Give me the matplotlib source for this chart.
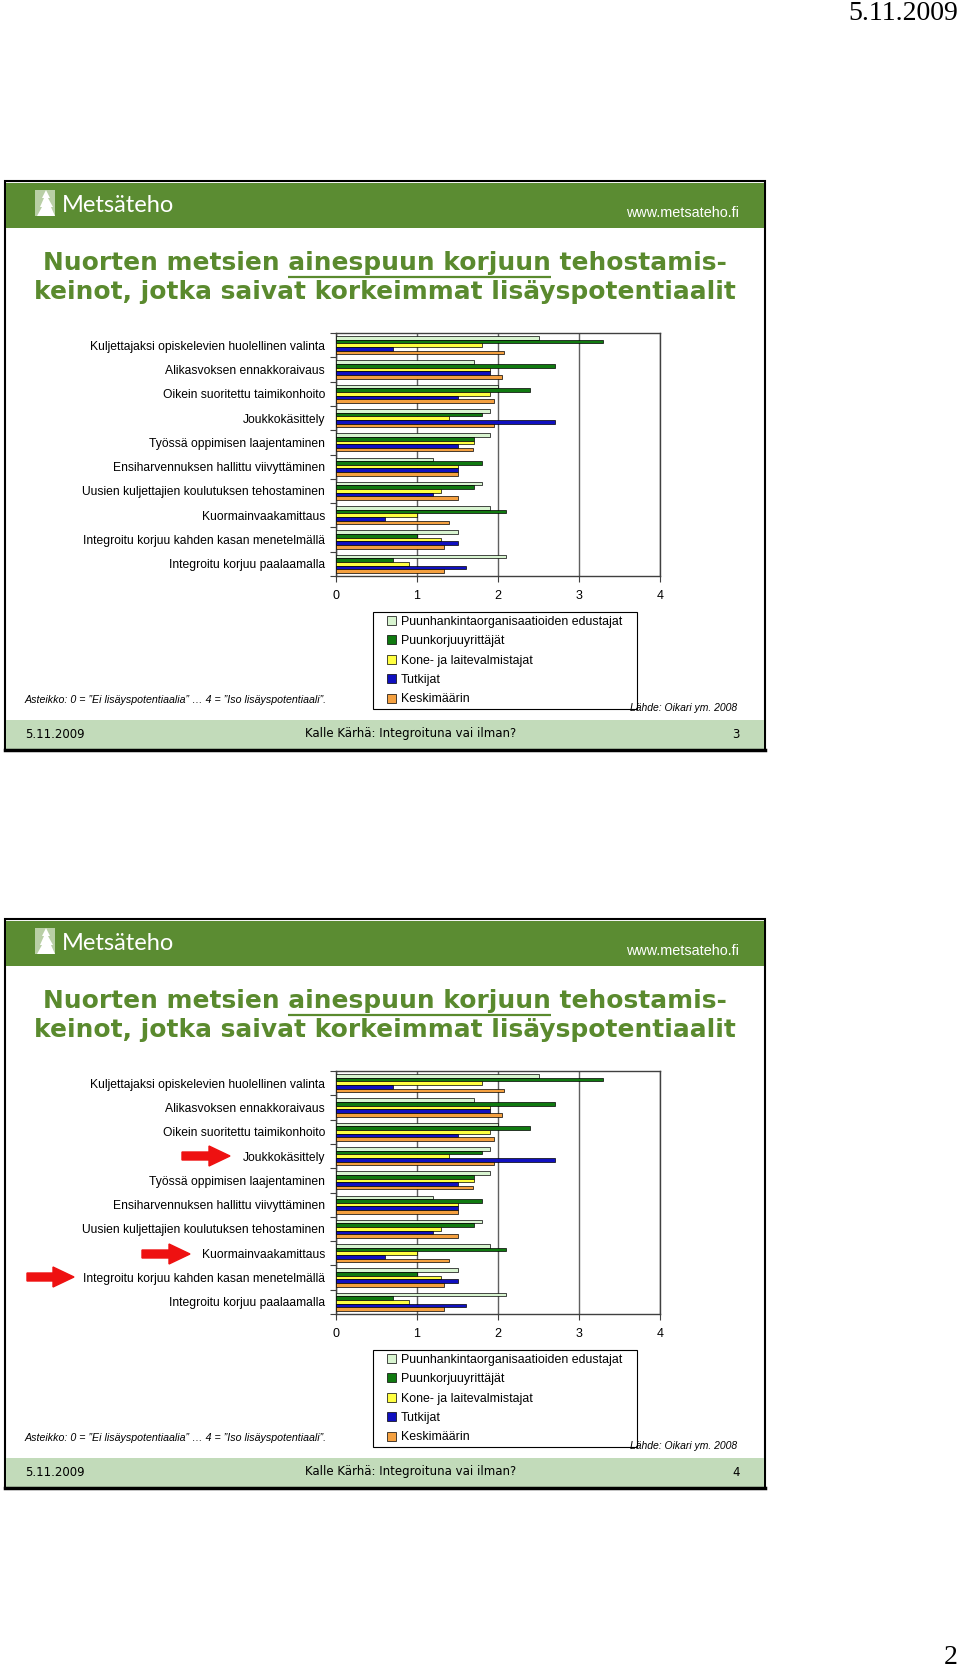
import matplotlib
matplotlib.use("Agg")
import matplotlib.pyplot as plt
from matplotlib.patches import Rectangle, Polygon, FancyArrow
from matplotlib.legend_handler import HandlerPatch
import numpy as np

# data (scale 0..4)
categories = [
    "Kuljettajaksi opiskelevien huolellinen valinta",
    "Alikasvoksen ennakkoraivaus",
    "Oikein suoritettu taimikonhoito",
    "Joukkokäsittely",
    "Työssä oppimisen laajentaminen",
    "Ensiharvennuksen hallittu viivyttäminen",
    "Uusien kuljettajien koulutuksen tehostaminen",
    "Kuormainvaakamittaus",
    "Integroitu korjuu kahden kasan menetelmällä",
    "Integroitu korjuu paalaamalla",
]
series_names = [
    "Puunhankintaorganisaatioiden edustajat",
    "Puunkorjuuyrittäjät",
    "Kone- ja laitevalmistajat",
    "Tutkijat",
    "Keskimäärin",
]
puunhankinta = [2.5, 1.7, 2.0, 1.9, 1.9, 1.2, 1.8, 1.9, 1.5, 2.1]
puunkorjuu = [3.3, 2.7, 2.4, 1.8, 1.7, 1.8, 1.7, 2.1, 1.0, 0.7]
kone = [1.8, 1.9, 1.9, 1.4, 1.7, 1.5, 1.3, 1.0, 1.3, 0.9]
tutkijat = [0.7, 1.9, 1.5, 2.7, 1.5, 1.5, 1.2, 0.6, 1.5, 1.6]
keskimaarin = [2.08, 2.05, 1.95, 1.95, 1.69, 1.5, 1.5, 1.4, 1.33, 1.33]
x_ticks = [0, 1, 2, 3, 4]

slide_numbers = ["3", "4"]
date_text = "5.11.2009"
footer_text = "Kalle Kärhä: Integroituna vai ilman?"
scale_text = "Asteikko: 0 = ”Ei lisäyspotentiaalia” … 4 = ”Iso lisäyspotentiaali”."
source_text = "Lähde: Oikari ym. 2008"

colors = ["#d8f4d0", "#107a10", "#ffff40", "#1010c0", "#f4a040"]
HEADER_GREEN = "#5b8c32"
TITLE_GREEN = "#5a8a2e"
FOOTER_GREEN = "#c2dbba"

W, H = 960, 1672
fig = plt.figure(figsize=(9.6, 16.72), dpi=100)
bg = fig.add_axes([0, 0, 1, 1])
bg.set_xlim(0, W)
bg.set_ylim(H, 0)
bg.axis("off")

SANS = ["Liberation Sans", "DejaVu Sans"]


def square_patch(legend, orig_handle, xdescent, ydescent, width, height,
                 fontsize):
    # small square at the right end of the handle slot
    return Rectangle((width - height - xdescent, -ydescent), height, height)


def underline(ax, x_center, y, full, part, start, **kw):
    # measure text pieces to put a line under "ainespuun korjuun"
    r = fig.canvas.get_renderer()
    inv = ax.transData.inverted()

    def width(s):
        t = ax.text(0, 0, s, **kw)
        bb = t.get_window_extent(renderer=r)
        t.remove()
        return inv.transform((bb.x1, 0))[0] - inv.transform((bb.x0, 0))[0]

    wfull = width(full)
    x0 = x_center - wfull / 2 + width(full[:start])
    x1 = x0 + width(part)
    ax.plot([x0, x1], [y, y], color=TITLE_GREEN, lw=1.6, solid_capstyle="butt")


def draw_slide(top, number, arrows):
    # frame
    bg.add_patch(Rectangle((5, top), 760, 569, facecolor="white",
                           edgecolor="black", lw=1.5, zorder=1))
    bg.add_patch(Rectangle((6, top + 2), 758, 45, facecolor=HEADER_GREEN,
                           edgecolor="none", zorder=2))
    bg.add_patch(Rectangle((6, top + 539), 758, 29, facecolor=FOOTER_GREEN,
                           edgecolor="none", zorder=2))
    bg.plot([5, 765], [top + 569, top + 569], color="black", lw=2.5, zorder=3)

    # logo
    bg.add_patch(Rectangle((35, top + 9), 20, 26, facecolor="#b9cfa6",
                           edgecolor="none", zorder=3))
    tree = [(46, top + 9), (50, top + 17), (48, top + 17), (53, top + 26),
            (51, top + 26), (55, top + 35), (37, top + 35), (42, top + 26),
            (40, top + 26), (44, top + 17), (42, top + 17)]
    bg.add_patch(Polygon(tree, closed=True, facecolor="white",
                         edgecolor="none", zorder=4))
    bg.text(62, top + 25, "Metsäteho", color="white", fontsize=17,
            family=["Lato", "DejaVu Sans"], va="center", ha="left", zorder=4)
    bg.text(739, top + 32, "www.metsateho.fi", color="white", fontsize=10.4,
            family=SANS, va="center", ha="right", zorder=4)

    # title
    line1 = "Nuorten metsien ainespuun korjuun tehostamis-"
    line2 = "keinot, jotka saivat korkeimmat lisäyspotentiaalit"
    tkw = dict(fontsize=17.9, fontweight="bold", color=TITLE_GREEN,
               family=["DejaVu Sans"], va="center", ha="center", zorder=4)
    bg.text(385, top + 82, line1, **tkw)
    bg.text(385, top + 111, line2, **tkw)
    underline(bg, 385, top + 96, line1, "ainespuun korjuun",
              line1.index("ainespuun"), **tkw)

    # chart
    ax = fig.add_axes([336 / W, 1 - (top + 395) / H, 324 / W, 243 / H])
    ax.set_zorder(5)
    y = np.arange(len(categories))
    data = [puunhankinta, puunkorjuu, kone, tutkijat, keskimaarin]
    offsets = [-0.3, -0.15, 0.0, 0.15, 0.3]
    handles = []
    for vals, off, c, name in zip(data, offsets, colors, series_names):
        b = ax.barh(y + off, vals, height=0.15, color=c, edgecolor="black",
                    linewidth=0.5, label=name, zorder=3)
        handles.append(b.patches[0])
    ax.set_xlim(0, 4)
    ax.set_ylim(len(categories) - 0.5, -0.5)
    ax.set_xticks(x_ticks)
    ax.set_xticklabels([str(t) for t in x_ticks], fontsize=9, family=SANS)
    ax.set_yticks(y)
    ax.set_yticklabels(categories, fontsize=8.7, family=SANS)
    ax.set_yticks(np.arange(-0.5, len(categories), 1), minor=True)
    ax.tick_params(axis="y", which="major", length=0, pad=8)
    ax.tick_params(axis="y", which="minor", length=4, width=0.8,
                   color="#404040")
    ax.tick_params(axis="x", length=4, width=0.8, color="#404040", pad=6)
    ax.grid(axis="x", color="#606060", lw=1, zorder=1)
    for s in ax.spines.values():
        s.set_color("#404040")
        s.set_linewidth(1)

    leg = ax.legend(handles, series_names, loc="upper left",
                    bbox_to_anchor=(373 / W, 1 - (top + 528) / H, 264 / W,
                                    97 / H),
                    bbox_transform=fig.transFigure, mode="expand",
                    frameon=True, fancybox=False, edgecolor="black",
                    framealpha=1, handlelength=1.6, handleheight=0.75,
                    handletextpad=0.35, labelspacing=0.6, borderpad=0.3,
                    borderaxespad=0, prop={"family": SANS, "size": 8.9},
                    handler_map={Rectangle: HandlerPatch(patch_func=square_patch)})
    leg.get_frame().set_linewidth(0.8)

    bg.text(25, top + 519, scale_text, fontsize=7.65, style="italic",
            family=SANS, va="center", ha="left", zorder=4)
    fig.text(630 / W, 1 - (top + 527) / H, source_text, fontsize=7.5,
             style="italic", family=SANS, va="center", ha="left", zorder=10)

    # footer
    fkw = dict(fontsize=8.5, family=["DejaVu Sans"], va="center", zorder=4)
    bg.text(25, top + 553, date_text, ha="left", **fkw)
    bg.text(305, top + 553, footer_text, ha="left", **fkw)
    bg.text(740, top + 553, number, ha="right", **fkw)

    # red arrows pointing at selected rows
    for x0, x1, yc in arrows:
        bg.add_patch(FancyArrow(x0, top + yc, x1 - x0, 0, width=8,
                                head_width=20, head_length=21,
                                length_includes_head=True, color="#ee1111",
                                zorder=6))


draw_slide(181, slide_numbers[0], [])
draw_slide(919, slide_numbers[1], [(182, 230, 237), (142, 190, 335),
                                   (27, 74, 358)])

serif = ["Liberation Serif", "DejaVu Serif"]
bg.text(958, 14, date_text, fontsize=20, family=serif, ha="right",
        va="center")
bg.text(958, 1658, "2", fontsize=20, family=serif, ha="right", va="center")

fig.savefig("out.png", dpi=100)
